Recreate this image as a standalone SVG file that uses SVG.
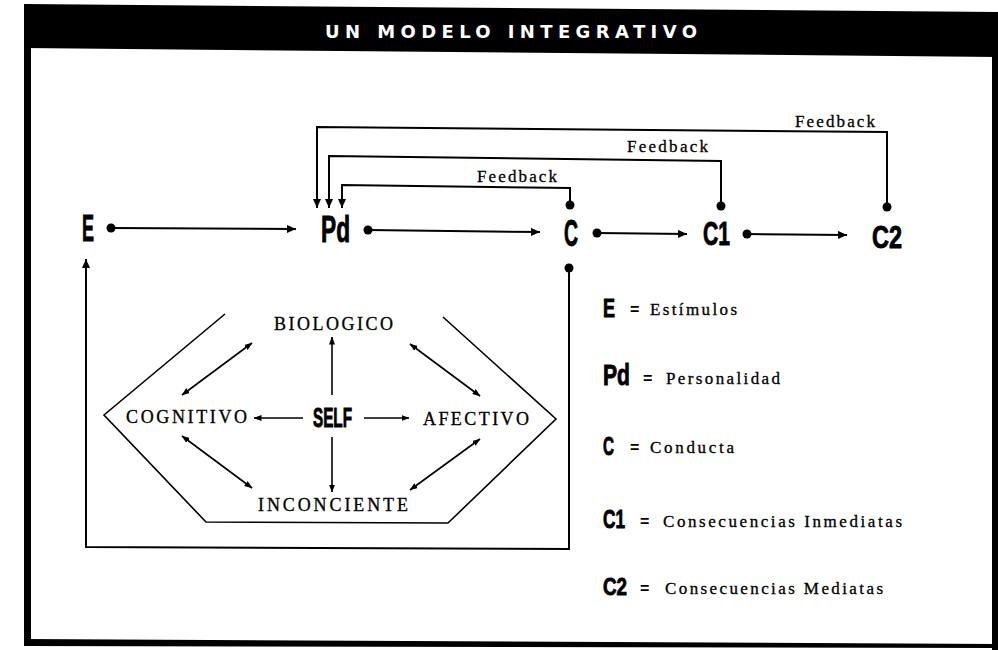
<svg xmlns="http://www.w3.org/2000/svg" width="998" height="650" viewBox="0 0 998 650">
<defs>
<marker id="ah" markerUnits="userSpaceOnUse" markerWidth="10" markerHeight="8" refX="9" refY="4" orient="auto"><path d="M0,0 L9,4 L0,8 z" fill="#000"/></marker>
<marker id="as" markerUnits="userSpaceOnUse" markerWidth="8" markerHeight="6" refX="7.5" refY="3" orient="auto"><path d="M0,0 L8,3 L0,6 z" fill="#000"/></marker>
<marker id="asr" markerUnits="userSpaceOnUse" markerWidth="8" markerHeight="6" refX="0.5" refY="3" orient="auto"><path d="M8,0 L0,3 L8,6 z" fill="#000"/></marker>
</defs>
<style>
.ln{fill:none;stroke:#000;stroke-width:2}
.thin{fill:none;stroke:#000;stroke-width:1.6}
.big{font-family:"Liberation Sans","DejaVu Sans",sans-serif;font-weight:bold;fill:#000;stroke:#000;stroke-width:0.9}
.ttl{font-family:"DejaVu Sans","Liberation Sans",sans-serif;font-weight:bold;font-size:18px;fill:#fff}
.fb{font-family:"Liberation Serif","DejaVu Serif",serif;font-size:17px;fill:#000;stroke:#000;stroke-width:0.3}
.hx{font-family:"Liberation Serif","DejaVu Serif",serif;font-size:18px;fill:#000;stroke:#000;stroke-width:0.3}
.lg{font-family:"Liberation Serif","DejaVu Serif",serif;font-size:17px;fill:#000;stroke:#000;stroke-width:0.3}
.eq{font-family:"Liberation Sans","DejaVu Sans",sans-serif;font-size:16px;font-weight:bold;fill:#000}
</style>
<rect x="0" y="0" width="998" height="650" fill="#fff"/>
<g id="frame">
<polygon points="24,4 998,12 998,57 24,48" fill="#000"/>
<rect x="24" y="4" width="7" height="642" fill="#000"/>
<polygon points="24,639 998,644 998,648 24,646" fill="#000"/>
<rect x="992" y="12" width="6" height="638" fill="#000"/>
<text x="325" y="38" textLength="372" class="ttl">UN MODELO INTEGRATIVO</text>
</g>
<g id="connectors">
<circle cx="111" cy="228" r="4.5"/>
<line x1="111" y1="228" x2="296" y2="229" class="ln" marker-end="url(#ah)"/>
<circle cx="368" cy="230" r="4.5"/>
<line x1="368" y1="230" x2="540" y2="232" class="ln" marker-end="url(#ah)"/>
<circle cx="597" cy="233" r="4.5"/>
<line x1="597" y1="233" x2="687" y2="234" class="ln" marker-end="url(#ah)"/>
<circle cx="747" cy="234" r="4.5"/>
<line x1="747" y1="234" x2="847" y2="235" class="ln" marker-end="url(#ah)"/>
<circle cx="570" cy="205" r="4.5"/>
<path d="M570,205 V188 L342,185 V208" class="ln" marker-end="url(#ah)"/>
<circle cx="721" cy="206" r="4.5"/>
<path d="M721,206 V161 L329,156 V208" class="ln" marker-end="url(#ah)"/>
<circle cx="887" cy="207" r="4.5"/>
<path d="M887,207 V132 L317,127 V208" class="ln" marker-end="url(#ah)"/>
<circle cx="569" cy="268" r="4.5"/>
<path d="M569,268 V549 L86,547 V259" class="ln" marker-end="url(#ah)"/>
<text x="477" y="182" textLength="80" class="fb">Feedback</text>
<text x="627" y="152" textLength="81" class="fb">Feedback</text>
<text x="795" y="127" textLength="80" class="fb">Feedback</text>
</g>
<g id="node-E"><text x="82" y="241" textLength="12" lengthAdjust="spacingAndGlyphs" class="big" font-size="36">E</text></g>
<g id="node-Pd"><text x="321" y="242" textLength="29" lengthAdjust="spacingAndGlyphs" class="big" font-size="36">Pd</text></g>
<g id="node-C"><text x="564" y="246" textLength="14" lengthAdjust="spacingAndGlyphs" class="big" font-size="36">C</text></g>
<g id="node-C1"><text x="703" y="245" textLength="27" lengthAdjust="spacingAndGlyphs" class="big" font-size="33">C1</text></g>
<g id="node-C2"><text x="872" y="248" textLength="30" lengthAdjust="spacingAndGlyphs" class="big" font-size="32">C2</text></g>
<g id="self-model">
<polyline points="225,314 104,415 206,522 448,523 556,419 443,317" class="thin"/>
<text x="274" y="330" textLength="119" class="hx">BIOLOGICO</text>
<text x="126" y="423" textLength="121" class="hx">COGNITIVO</text>
<text x="423" y="425" textLength="106" class="hx">AFECTIVO</text>
<text x="258" y="511" textLength="150" class="hx">INCONCIENTE</text>
<text x="313" y="427" textLength="39" lengthAdjust="spacingAndGlyphs" class="big" font-size="27">SELF</text>
<line x1="332" y1="395" x2="332" y2="337" class="thin" marker-end="url(#as)"/>
<line x1="332" y1="437" x2="332" y2="492" class="thin" marker-end="url(#as)"/>
<line x1="303" y1="418" x2="254" y2="418" class="thin" marker-end="url(#as)"/>
<line x1="364" y1="418" x2="409" y2="418" class="thin" marker-end="url(#as)"/>
<line x1="252" y1="343" x2="182" y2="395" class="thin" marker-start="url(#asr)" marker-end="url(#as)"/>
<line x1="410" y1="344" x2="480" y2="396" class="thin" marker-start="url(#asr)" marker-end="url(#as)"/>
<line x1="182" y1="436" x2="252" y2="488" class="thin" marker-start="url(#asr)" marker-end="url(#as)"/>
<line x1="480" y1="439" x2="410" y2="490" class="thin" marker-start="url(#asr)" marker-end="url(#as)"/>
</g>
<g id="legend">
<text x="603" y="317" textLength="12" lengthAdjust="spacingAndGlyphs" class="big" font-size="25">E</text>
<text x="630" y="315" class="eq">=</text>
<text x="650" y="315" textLength="87" class="lg">Estímulos</text>
<text x="603" y="385" textLength="27" lengthAdjust="spacingAndGlyphs" class="big" font-size="29">Pd</text>
<text x="643" y="384" class="eq">=</text>
<text x="666" y="384" textLength="114" class="lg">Personalidad</text>
<text x="603" y="455" textLength="11" lengthAdjust="spacingAndGlyphs" class="big" font-size="25">C</text>
<text x="630" y="453" class="eq">=</text>
<text x="650" y="453" textLength="84" class="lg">Conducta</text>
<text x="603" y="528" textLength="22" lengthAdjust="spacingAndGlyphs" class="big" font-size="25">C1</text>
<text x="640" y="527" class="eq">=</text>
<text x="663" y="527" textLength="239" class="lg">Consecuencias Inmediatas</text>
<text x="603" y="595" textLength="24" lengthAdjust="spacingAndGlyphs" class="big" font-size="24">C2</text>
<text x="640" y="594" class="eq">=</text>
<text x="665" y="594" textLength="218" class="lg">Consecuencias Mediatas</text>
</g>
</svg>
